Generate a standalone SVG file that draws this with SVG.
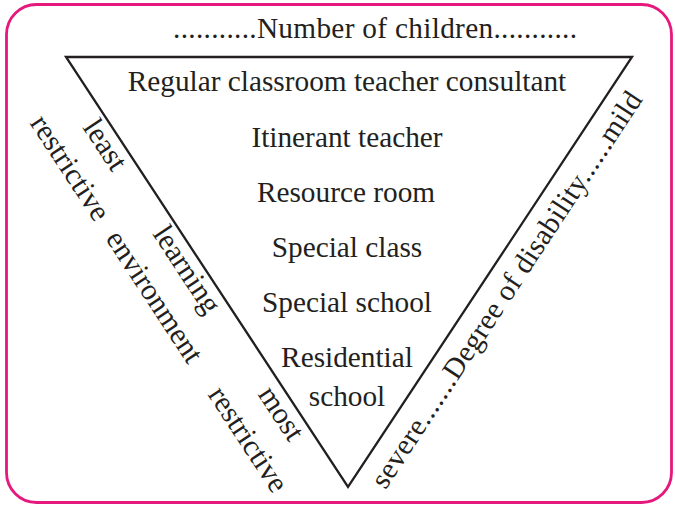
<svg xmlns="http://www.w3.org/2000/svg" width="675" height="506" viewBox="0 0 675 506">
<style>
.t{font-family:"Liberation Serif","Times New Roman",serif;font-size:29.3px;fill:#231f20;text-anchor:middle}
.r{font-size:30px}
.edge{fill:none;stroke:#231f20;stroke-width:2.3;stroke-linejoin:miter}
</style>
<rect x="6.5" y="4.5" width="665" height="498" rx="30" ry="30" fill="#ffffff" stroke="#e5187e" stroke-width="2.8"/>
<g id="connectors">
<polygon class="edge" points="66,57 632,57 348,487"/>
</g>
<g id="title"><text class="t" x="375" y="38" textLength="404" lengthAdjust="spacing">...........Number of children...........</text></g>
<g id="n1"><text class="t" x="347" y="91">Regular classroom teacher consultant</text></g>
<g id="n2"><text class="t" x="347" y="147">Itinerant teacher</text></g>
<g id="n3"><text class="t" x="346" y="202">Resource room</text></g>
<g id="n4"><text class="t" x="347" y="257">Special class</text></g>
<g id="n5"><text class="t" x="347" y="312">Special school</text></g>
<g id="n6"><text class="t" x="347" y="367">Residential</text><text class="t" x="347" y="406">school</text></g>
<g id="left-labels">
<text class="t r" transform="translate(97.2,150.1) rotate(56.7)">least</text>
<text class="t r" transform="translate(62.1,173.1) rotate(56.7)">restrictive</text>
<text class="t r" transform="translate(178.9,274.7) rotate(56.7)">learning</text>
<text class="t r" transform="translate(146.5,301.9) rotate(56.7)">environment</text>
<text class="t r" transform="translate(273.2,418.6) rotate(56.7)">most</text>
<text class="t r" transform="translate(240.2,444.6) rotate(56.7)">restrictive</text>
</g>
<g id="right-label">
<text class="t" transform="translate(514.4,294.9) rotate(-56.6)" textLength="468" lengthAdjust="spacing">severe.......Degree of disability......mild</text>
</g>
</svg>
